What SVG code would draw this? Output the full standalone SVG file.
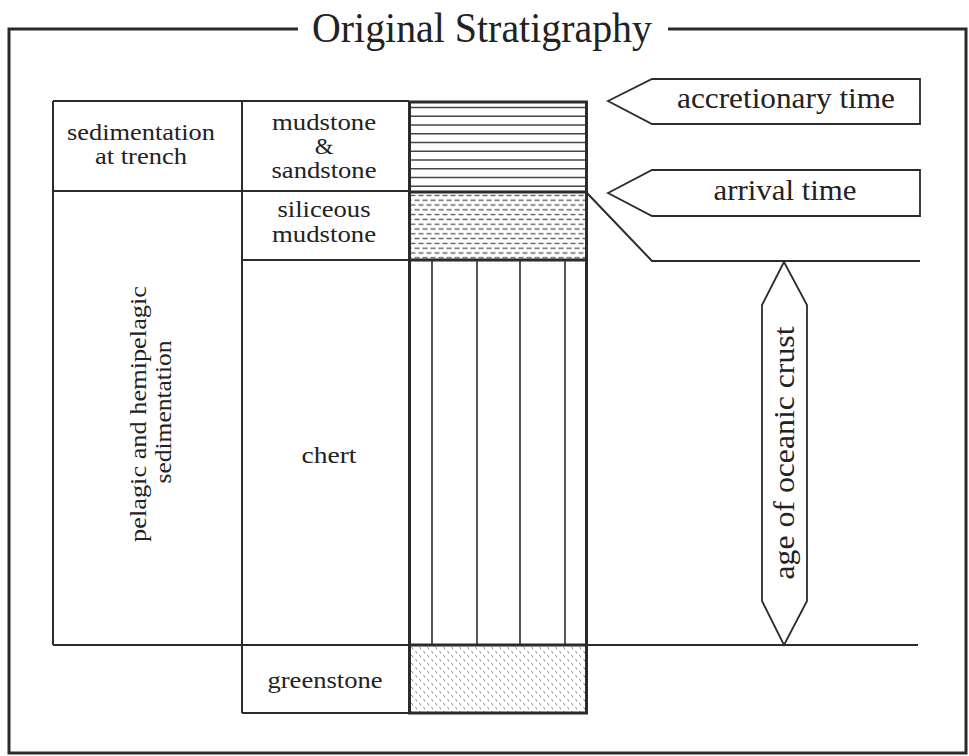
<svg xmlns="http://www.w3.org/2000/svg" width="969" height="756" viewBox="0 0 969 756">
<style>
.ln{stroke:#2b2b2b;stroke-width:2;fill:none}
.thk{stroke:#2b2b2b;stroke-width:3;fill:none}
.txt{font-family:"Liberation Serif","Times New Roman",serif;font-size:24px;fill:#222;text-anchor:middle}
.big{font-family:"Liberation Serif","Times New Roman",serif;font-size:30px;fill:#222;text-anchor:middle}
.shape{stroke:#2b2b2b;stroke-width:1.8;fill:#fff}
</style>
<defs>
<pattern id="dash" patternUnits="userSpaceOnUse" width="8" height="9.6" x="410" y="193">
<line x1="0.5" y1="2.4" x2="5.5" y2="2.4" stroke="#555" stroke-width="1.3"/>
<line x1="4.5" y1="7.2" x2="9.5" y2="7.2" stroke="#555" stroke-width="1.3"/>
<line x1="-3.5" y1="7.2" x2="1.5" y2="7.2" stroke="#555" stroke-width="1.3"/>
</pattern>
<pattern id="green" patternUnits="userSpaceOnUse" width="8" height="8" x="410" y="646">
<line x1="1.5" y1="1" x2="3" y2="3.5" stroke="#8a8a8a" stroke-width="1"/>
<line x1="5.5" y1="5" x2="7" y2="7.5" stroke="#8a8a8a" stroke-width="1"/>
</pattern>
</defs>
<rect width="969" height="756" fill="#fff"/>
<g id="frame">
<polyline class="thk" points="298,29 9,29 9,753 966,753 966,29 668,29"/>
</g>
<g id="title">
<text x="482" y="42" font-family="Liberation Serif, Times New Roman, serif" font-size="42" fill="#222" text-anchor="middle" textLength="340" lengthAdjust="spacingAndGlyphs">Original Stratigraphy</text>
</g>
<g id="table">
<line class="ln" x1="53" y1="101" x2="409" y2="101"/>
<line class="ln" x1="53" y1="191" x2="409" y2="191"/>
<line class="ln" x1="242" y1="260" x2="409" y2="260"/>
<line class="ln" x1="53" y1="101" x2="53" y2="645"/>
<line class="ln" x1="242" y1="101" x2="242" y2="713"/>
<line class="ln" x1="242" y1="713" x2="409" y2="713"/>
</g>
<g id="cell-sedimentation-trench">
<text class="txt" x="141" y="140" textLength="148" lengthAdjust="spacingAndGlyphs">sedimentation</text>
<text class="txt" x="141" y="164" textLength="92" lengthAdjust="spacingAndGlyphs">at trench</text>
</g>
<g id="cell-pelagic">
<text class="txt" transform="translate(146,414) rotate(-90)" textLength="256" lengthAdjust="spacingAndGlyphs">pelagic and hemipelagic</text>
<text class="txt" transform="translate(171,412) rotate(-90)" textLength="143" lengthAdjust="spacingAndGlyphs">sedimentation</text>
</g>
<g id="cell-mudstone-sandstone">
<text class="txt" x="324" y="130" textLength="104" lengthAdjust="spacingAndGlyphs">mudstone</text>
<text class="txt" x="324" y="154">&amp;</text>
<text class="txt" x="324" y="178" textLength="105" lengthAdjust="spacingAndGlyphs">sandstone</text>
</g>
<g id="cell-siliceous">
<text class="txt" x="324" y="217" textLength="93" lengthAdjust="spacingAndGlyphs">siliceous</text>
<text class="txt" x="324" y="242" textLength="104" lengthAdjust="spacingAndGlyphs">mudstone</text>
</g>
<g id="cell-chert">
<text class="txt" x="329" y="463" textLength="55" lengthAdjust="spacingAndGlyphs">chert</text>
</g>
<g id="cell-greenstone">
<text class="txt" x="325" y="688" textLength="115" lengthAdjust="spacingAndGlyphs">greenstone</text>
</g>
<g id="column">
<g id="layer-mudstone">
<g stroke="#444" stroke-width="1.4">
<line x1="410" y1="107.5" x2="586" y2="107.5"/>
<line x1="410" y1="116.3" x2="586" y2="116.3"/>
<line x1="410" y1="125" x2="586" y2="125"/>
<line x1="410" y1="133.8" x2="586" y2="133.8"/>
<line x1="410" y1="142.5" x2="586" y2="142.5"/>
<line x1="410" y1="151.3" x2="586" y2="151.3"/>
<line x1="410" y1="160" x2="586" y2="160"/>
<line x1="410" y1="168.8" x2="586" y2="168.8"/>
<line x1="410" y1="177.5" x2="586" y2="177.5"/>
<line x1="410" y1="186.3" x2="586" y2="186.3"/>
</g>
</g>
<g id="layer-siliceous">
<rect x="410" y="193" width="176" height="66" fill="url(#dash)"/>
</g>
<g id="layer-chert">
<g stroke="#2b2b2b" stroke-width="1.6">
<line x1="432" y1="260" x2="432" y2="645"/>
<line x1="477" y1="260" x2="477" y2="645"/>
<line x1="520" y1="260" x2="520" y2="645"/>
<line x1="565" y1="260" x2="565" y2="645"/>
</g>
</g>
<g id="layer-greenstone">
<rect x="410" y="646" width="176" height="66" fill="url(#green)"/>
</g>
<rect class="thk" x="409.5" y="102" width="177" height="611"/>
<line class="thk" x1="409.5" y1="192" x2="586.5" y2="192"/>
<line class="thk" x1="409.5" y1="260" x2="586.5" y2="260"/>
<line class="thk" x1="409.5" y1="645" x2="586.5" y2="645"/>
</g>
<g id="connectors">
<polyline class="ln" points="587,193 652,261 920,261"/>
<line class="ln" x1="53" y1="645" x2="918" y2="645"/>
</g>
<g id="accretionary-time">
<polygon class="shape" points="608,101 652,79 920,79 920,124 652,124"/>
<text class="big" x="786" y="108" textLength="218" lengthAdjust="spacingAndGlyphs">accretionary time</text>
</g>
<g id="arrival-time">
<polygon class="shape" points="608,193 652,170 920,170 920,216 652,216"/>
<text class="big" x="785" y="200" textLength="143" lengthAdjust="spacingAndGlyphs">arrival time</text>
</g>
<g id="age-oceanic-crust">
<polygon class="shape" points="784,262 807,305 807,601 784,645 762,601 762,305"/>
<text class="big" transform="translate(794,453) rotate(-90)" textLength="253" lengthAdjust="spacingAndGlyphs">age of oceanic crust</text>
</g>
</svg>
